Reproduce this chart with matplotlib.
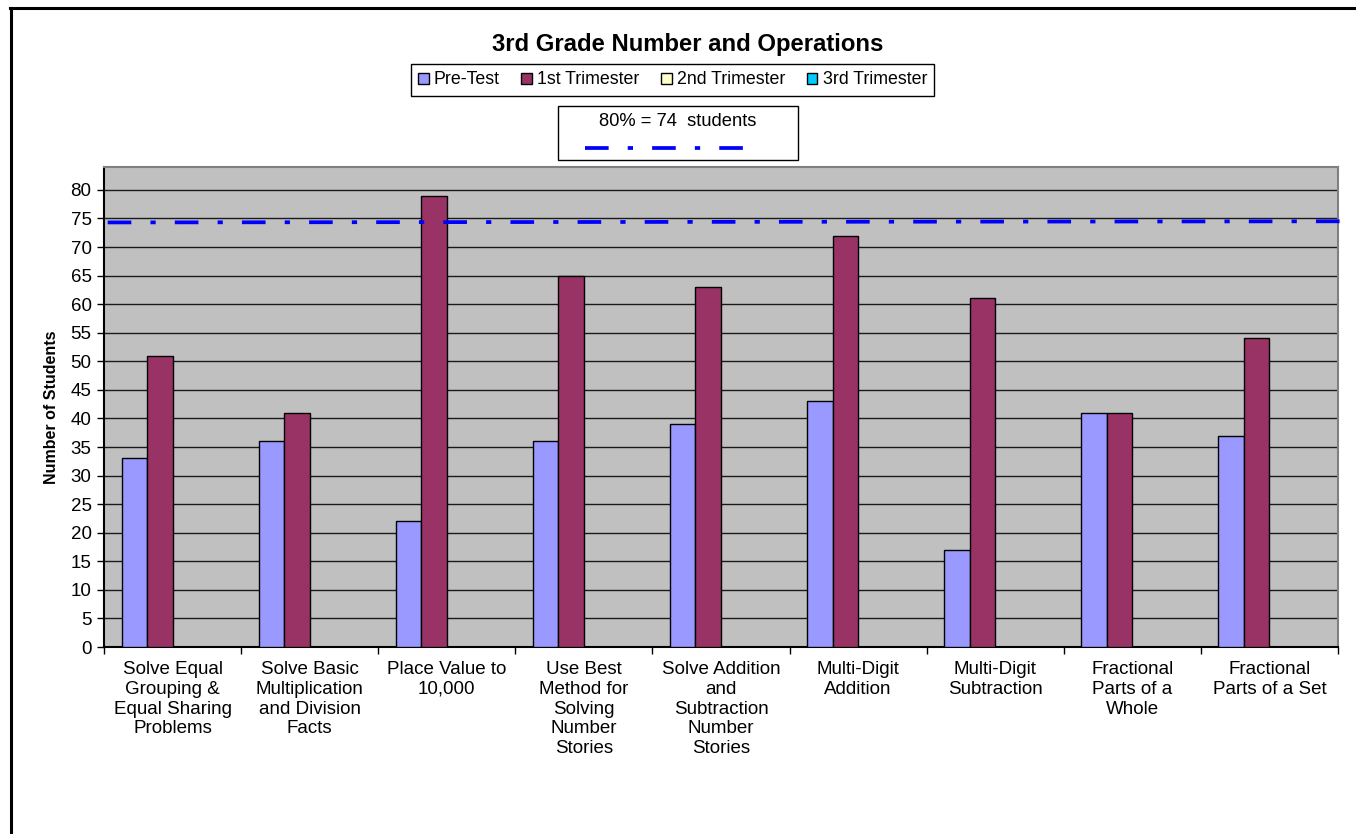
import matplotlib
matplotlib.use("Agg")
import matplotlib.pyplot as plt
import numpy as np
from matplotlib.patches import Patch, Rectangle
from matplotlib.lines import Line2D

plt.rcParams['font.family'] = ['Liberation Sans', 'DejaVu Sans']

categories = [
    "Solve Equal\nGrouping &\nEqual Sharing\nProblems",
    "Solve Basic\nMultiplication\nand Division\nFacts",
    "Place Value to\n10,000",
    "Use Best\nMethod for\nSolving\nNumber\nStories",
    "Solve Addition\nand\nSubtraction\nNumber\nStories",
    "Multi-Digit\nAddition",
    "Multi-Digit\nSubtraction",
    "Fractional\nParts of a\nWhole",
    "Fractional\nParts of a Set",
]
series_names = ["Pre-Test", "1st Trimester", "2nd Trimester", "3rd Trimester"]
pre_test = [33, 36, 22, 36, 39, 43, 17, 41, 37]
trimester1 = [51, 41, 79, 65, 63, 72, 61, 41, 54]
trimester2 = [0, 0, 0, 0, 0, 0, 0, 0, 0]
trimester3 = [0, 0, 0, 0, 0, 0, 0, 0, 0]
target_value = 74
target_label = "80% = 74  students"
y_ticks = list(range(0, 85, 5))

colors = ["#9999FF", "#993366", "#FFFFCC", "#00CCFF"]

W, H = 1356, 834
fig = plt.figure(figsize=(W / 100, H / 100), dpi=100)
fig.patch.set_facecolor("white")

def fx(px):
    return px / W

def fy(py):
    return 1 - py / H

ax = fig.add_axes([fx(104), fy(647), fx(1338) - fx(104), fy(167) - fy(647)])
ax.set_facecolor("#C0C0C0")

x = np.arange(len(categories))
w = 0.186
all_series = [pre_test, trimester1, trimester2, trimester3]
for i, (vals, c) in enumerate(zip(all_series, colors)):
    vv = np.array(vals)
    mask = vv > 0
    ax.bar(x[mask] + (i - 1.5) * w, vv[mask], width=w, color=c,
           edgecolor="black", linewidth=1.0, zorder=3)

ax.set_xlim(-0.5, len(categories) - 0.5)
ax.set_ylim(0, 84)
ax.set_yticks(y_ticks)
ax.tick_params(axis="y", labelsize=13.5, length=5, width=1, direction="out", pad=4)
ax.yaxis.grid(True, color="#1a1a1a", linewidth=1.0, zorder=1)
ax.set_axisbelow(True)

ax.set_xticks(np.arange(len(categories) + 1) - 0.5)
ax.set_xticklabels([])
ax.tick_params(axis="x", which="major", length=5, width=1, direction="out")
ax.set_xticks(x, minor=True)
ax.set_xticklabels(categories, minor=True, fontsize=13.5, linespacing=1.22)
ax.tick_params(axis="x", which="minor", length=0, pad=10)

for s in ["left", "bottom"]:
    ax.spines[s].set_color("black")
    ax.spines[s].set_linewidth(1.5)
for s in ["top", "right"]:
    ax.spines[s].set_color("#808080")
    ax.spines[s].set_linewidth(1.5)

ax.set_ylabel("Number of Students", fontsize=11.5, fontweight="bold", labelpad=8)

# target line (dash-dot)
ax.plot([0.003, 1.015], [target_value + 0.3, target_value + 0.5],
        transform=ax.get_yaxis_transform(), color="#0000FF", linewidth=2.7,
        dashes=(6.3, 5.1, 1.4, 5.1), solid_capstyle="butt", dash_capstyle="butt",
        clip_on=False, zorder=5)

# title
fig.text(fx(688), fy(45), "3rd Grade Number and Operations", ha="center", va="center",
         fontsize=17.2, fontweight="bold")

# legend
handles = [Patch(facecolor=c, edgecolor="black", linewidth=1.0) for c in colors]
leg = fig.legend(handles, series_names, loc="center",
                 bbox_to_anchor=(fx(672.5), fy(80)), ncol=4, fontsize=12.8,
                 handlelength=0.6, handleheight=0.6, handletextpad=0.3,
                 columnspacing=1.2, borderpad=0.4, fancybox=False,
                 edgecolor="black", framealpha=1)
leg.get_frame().set_linewidth(1.0)

# annotation box
fig.add_artist(Rectangle((fx(558), fy(160)), fx(798) - fx(558), fy(106) - fy(160),
                         transform=fig.transFigure, facecolor="white",
                         edgecolor="black", linewidth=1.0))
fig.text(fx(678), fy(122), target_label, ha="center", va="center", fontsize=13.2)
fig.add_artist(Line2D([fx(585), fx(762)], [fy(148), fy(148)], transform=fig.transFigure,
                      color="#0000FF", linewidth=2.7, dashes=(6.3, 5.1, 1.4, 5.1),
                      dash_capstyle="butt"))

# chart area border (top and left visible)
fig.add_artist(Line2D([fx(11), fx(11)], [fy(8), 0], transform=fig.transFigure,
                      color="black", linewidth=2.2))
fig.add_artist(Line2D([fx(10), 1], [fy(8), fy(8)], transform=fig.transFigure,
                      color="black", linewidth=2.2))

fig.savefig("out.png", dpi=100)
